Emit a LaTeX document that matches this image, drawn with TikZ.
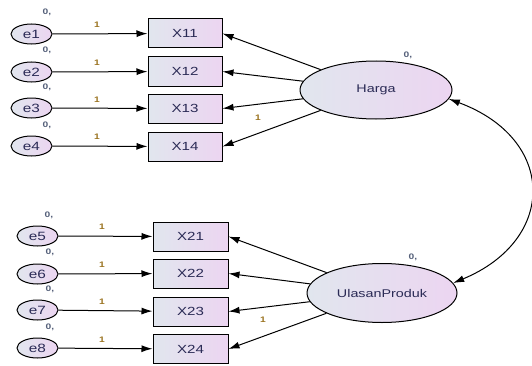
\documentclass[tikz,border=0pt]{standalone}
\usepackage{fontspec}
\setmainfont[FakeStretch = 1.28]{Liberation Sans}
\usetikzlibrary{shapes.geometric, arrows.meta}

\definecolor{fillL}{HTML}{E1E6EE}
\definecolor{fillR}{HTML}{ECD5F1}
\definecolor{ink}{HTML}{2A2A55}
\definecolor{wgt}{HTML}{9A7320}
\definecolor{var}{HTML}{55607A}

\begin{document}
\begin{tikzpicture}[x = 1pt, y = 1pt, line width = 1pt,
    err/.style = {shape = ellipse, draw, minimum width = 41pt, minimum height = 20pt, inner sep = 0pt,
        left color = fillL, right color = fillR, text = ink, font = \fontsize{12}{14}\selectfont},
    obs/.style = {shape = rectangle, draw, minimum width = 74pt, minimum height = 29pt, inner sep = 0pt,
        left color = fillL, right color = fillR, text = ink, font = \fontsize{11.8}{14}\selectfont},
    lat/.style = {shape = ellipse, draw, minimum width = 152pt, minimum height = 58pt, inner sep = 0pt,
        left color = fillL, right color = fillR, text = ink, font = \fontsize{11.2}{14}\selectfont},
    one/.style = {text = wgt, font = \fontsize{8}{9}\selectfont\bfseries, inner sep = 0pt},
    zero/.style = {text = var, font = \fontsize{8}{9}\selectfont\bfseries, inner sep = 0pt},
    arr/.style = {-{Latex[length = 11pt, width = 7pt]}}]
    \useasboundingbox (0,0) rectangle (532,365);

    % latent variables
    \node[lat] (H) at (376,275) {Harga};
    \node[lat, minimum width = 150pt, minimum height = 59pt] (U) at (382,72) {UlasanProduk};
    \node[zero] (H0) at (408,310) {0,};
    \node[zero] (U0) at (413,108) {0,};

    % Harga indicators
    \node[err] (E1) at (31.5,331) {e1};
    \node[err] (E2) at (31.5,293) {e2};
    \node[err] (E3) at (31.5,257) {e3};
    \node[err] (E4) at (31.5,219) {e4};
    \node[obs] (X11) at (185,331.5) {X11};
    \node[obs] (X12) at (185,293.5) {X12};
    \node[obs] (X13) at (185,256.5) {X13};
    \node[obs] (X14) at (185,218.5) {X14};

    % UlasanProduk indicators
    \node[err] (E5) at (37.5,129) {e5};
    \node[err] (E6) at (37.5,91) {e6};
    \node[err] (E7) at (37.5,55) {e7};
    \node[err] (E8) at (37.5,17) {e8};
    \node[obs, minimum width = 75pt] (X21) at (190.5,128.5) {X21};
    \node[obs, minimum width = 75pt] (X22) at (190.5,91.5) {X22};
    \node[obs, minimum width = 75pt] (X23) at (190.5,53.5) {X23};
    \node[obs, minimum width = 75pt] (X24) at (190.5,16) {X24};

    % variances of the errors
    \node[zero] (Z1) at (47,353) {0,};
    \node[zero] (Z2) at (47,315) {0,};
    \node[zero] (Z3) at (47,278) {0,};
    \node[zero] (Z4) at (47,240) {0,};
    \node[zero] (Z5) at (49,150) {0,};
    \node[zero] (Z6) at (50,113) {0,};
    \node[zero] (Z7) at (50,76) {0,};
    \node[zero] (Z8) at (50,38) {0,};

    % fixed weights
    \node[one] (W1) at (97,340) {1};
    \node[one] (W2) at (97,302) {1};
    \node[one] (W3) at (97,265) {1};
    \node[one] (W4) at (97,228) {1};
    \node[one] (W5) at (102,138) {1};
    \node[one] (W6) at (102,100) {1};
    \node[one] (W7) at (102,63) {1};
    \node[one] (W8) at (102,25) {1};
    \node[one] (WH) at (258,247) {1};
    \node[one] (WU) at (263,45) {1};

    \foreach \e/\x in {E1/X11, E2/X12, E3/X13, E4/X14, E5/X21, E6/X22, E7/X23, E8/X24}
        \draw[arr] (\e) -- (\x);
    \foreach \x in {X11, X12, X13, X14}
        \draw[arr] (H) -- (\x.east);
    \foreach \x in {X21, X22, X23, X24}
        \draw[arr] (U) -- (\x.east);

    \draw[{Latex[length = 11pt, width = 7pt]}-{Latex[length = 11pt, width = 7pt]}]
        (H.-7) .. controls (557,226) and (557,125) .. (U.8);
\end{tikzpicture}
\end{document}
